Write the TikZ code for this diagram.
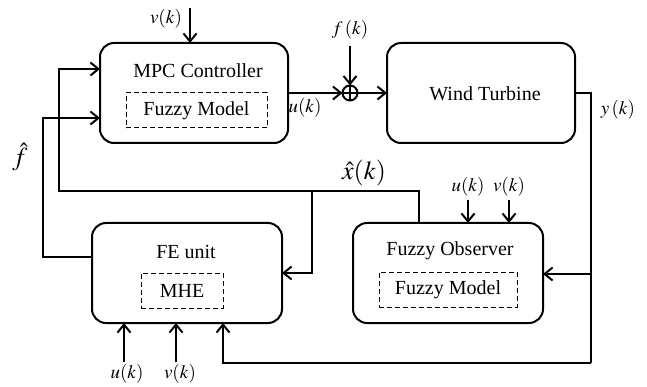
\documentclass[tikz,border=0pt]{standalone}
\usepackage{mathptmx}
\usepackage[no-math]{fontspec}
\setmainfont{Liberation Serif}
\usetikzlibrary{arrows.meta}
\begin{document}
\begin{tikzpicture}[x=1pt,y=-1pt,
  blk/.style={draw,line width=2pt,rounded corners=14pt,outer sep=0pt,inner sep=0pt},
  inbox/.style={draw,dashed,dash pattern=on 5pt off 3pt,line width=1pt,outer sep=0pt,inner sep=0pt,font=\fontsize{20}{22}\selectfont},
  ttl/.style={font=\fontsize{20}{22}\selectfont},
  conn/.style={line width=2pt},
  arr/.style={conn,-{Straight Barb[length=8pt,width=13pt,line width=2pt]}},
  lbl/.style={font=\fontsize{19}{21}\selectfont},
  big/.style={font=\fontsize{26}{28}\selectfont},
]
\useasboundingbox (0,0) rectangle (647,387);

% blocks
\node[blk,minimum width=188pt,minimum height=100pt] (mpc) at (194,93) {};
\node[ttl] (mpct) at (198,71) {MPC Controller};
\node[inbox,minimum width=141pt,minimum height=35pt] (fm1) at (196.5,110.5) {Fuzzy Model};

\node[blk,minimum width=188pt,minimum height=100pt] (wt) at (481,93) {};
\node[ttl] (wtt) at (485,94) {Wind Turbine};

\node[blk,minimum width=190pt,minimum height=100pt] (fe) at (187,273) {};
\node[ttl] (fet) at (186,252) {FE unit};
\node[inbox,minimum width=82pt,minimum height=35pt] (mhe) at (182,290.5) {MHE};

\node[blk,minimum width=190pt,minimum height=100pt] (fo) at (448,273) {};
\node[ttl] (fot) at (450,251) {Fuzzy Observer};
\node[inbox,minimum width=138pt,minimum height=35pt] (fm2) at (448,289.5) {Fuzzy Model};

% summing junction
\node[draw,circle,line width=2pt,minimum size=15pt,inner sep=0pt,outer sep=0pt] (sum) at (350,93) {};
\draw[line width=2pt] (sum.north) -- (sum.south) (sum.west) -- (sum.east);

% free ends and corners
\coordinate (vtop) at (190,8);
\coordinate (ftop) at (350,46);
\coordinate (yc) at (591,93);
\coordinate (ybot) at (591,363);
\coordinate (ybr) at (591,274);
\coordinate (xt) at (419,191);
\coordinate (xl) at (59,191);
\coordinate (xbr) at (312,191);
\coordinate (fhl) at (43,257);
\coordinate (fou) at (468,200);
\coordinate (fov) at (509,200);
\coordinate (feu) at (124,362);
\coordinate (fev) at (176,362);

% forward path
\draw[arr] (vtop) -- (vtop |- mpc.north);
\draw[arr] (mpc.east) -- (sum.west);
\draw[arr] (sum.east) -- (wt.west);
\draw[arr] (ftop) -- (sum.north);

% measured output
\draw[conn] (wt.east) -- (yc) -- (ybot);
\draw[arr] (ybot) -| ([xshift=36pt]fe.south);
\draw[arr] (ybr) -- (fo.east |- ybr);

% state estimate feedback
\draw[arr] (xt |- fo.north) -- (xt) -- (xl) |- ([yshift=24pt]mpc.west);
\draw[arr] (xbr) |- (fe.east);

% fault estimate feedback
\draw[arr] (fe.west |- fhl) -- (fhl) |- ([yshift=-25pt]mpc.west);

% inputs to observer and estimator
\draw[arr] (fou) -- (fou |- fo.north);
\draw[arr] (fov) -- (fov |- fo.north);
\draw[arr] (feu) -- (feu |- fe.south);
\draw[arr] (fev) -- (fev |- fe.south);

% labels
\node[lbl] (lv) at (166,19) {$v(k)$};
\node[lbl] (lf) at (350,30) {$f\,(k)$};
\node[lbl] (lu) at (305,108) {$u(k)$};
\node[lbl] (ly) at (618,110) {$y\,(k)$};
\node[big] (lx) at (364,173) {$\hat{x}(k)$};
\node[big] (lfh) at (20,157) {$\hat{f}$};
\node[lbl] (lou) at (468,187) {$u(k)$};
\node[lbl] (lov) at (509,187) {$v(k)$};
\node[lbl] (leu) at (127,374) {$u(k)$};
\node[lbl] (lev) at (180,374) {$v(k)$};
\end{tikzpicture}
\end{document}
